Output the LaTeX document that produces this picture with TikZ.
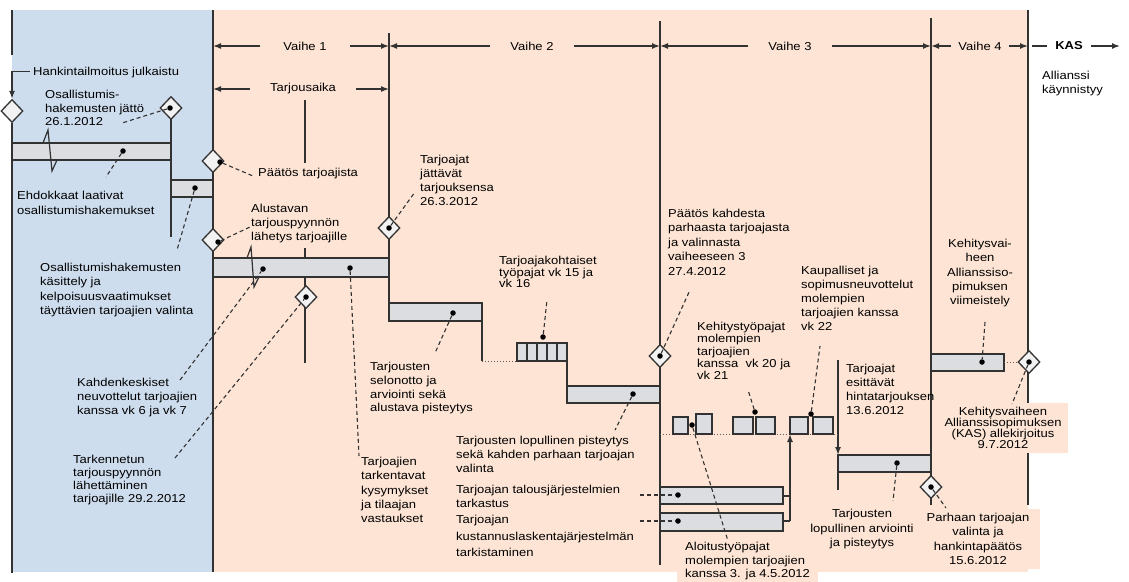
\documentclass[tikz,border=0pt]{standalone}
\usepackage{fontspec}
\setmainfont{Liberation Sans}[FakeStretch=1.13]
\usepackage{tikz}
\usetikzlibrary{arrows.meta,shapes.geometric}
\definecolor{blueC}{RGB}{206,221,238}
\definecolor{peachC}{RGB}{253,228,212}
\definecolor{barC}{RGB}{220,221,225}
\definecolor{lineC}{RGB}{50,50,50}
\definecolor{mileC}{RGB}{242,242,242}
\newcommand\lblfont[1][14]{\fontsize{11.5}{#1}\selectfont}

\begin{document}
\begin{tikzpicture}[x=1pt, y=-1pt,
    ln/.style = {draw=lineC, line width=1.5pt},
    harrow/.style = {draw=lineC, line width=1.5pt, -{Latex[length=8pt,width=6pt]}},
    taskbar/.style = {draw=lineC, fill=barC, line width=1.3pt},
    dotline/.style = {draw=lineC!80, dotted, line width=1pt},
    lead/.style = {draw=lineC, line width=1.1pt, dash pattern=on 4pt off 3pt},
    milestone/.style = {diamond, draw=lineC, fill=mileC, line width=1.3pt,
        minimum width=22pt, minimum height=23pt, inner sep=0pt},
    spot/.style = {circle, fill=black, inner sep=0pt, minimum size=5.5pt},
    hdr/.style = {font=\lblfont, inner xsep=20pt, inner ysep=0pt},
    lbl/.style = {font=\lblfont, align=left, anchor=north west, inner sep=0pt,
        execute at begin node={\rule{0pt}{10pt}}},
    clbl/.style = {lbl, align=center, anchor=north},
    boxed/.style = {fill=peachC, inner xsep=8pt, inner ysep=4pt}]

\useasboundingbox (0,0) rectangle (1129,581);
\fill[blueC] (12,10) rectangle (213,572);
\fill[peachC] (213,10) rectangle (1028,572);

\coordinate (b0) at (213,10);
\coordinate (b1) at (389,33);
\coordinate (b2) at (660,21);
\coordinate (b3) at (931,18);
\coordinate (b4) at (1028,10);

\draw[ln] (12,10) -- (12,55);
\draw[ln] (12,123) -- (12,573);
\draw[ln] (b0) -- (213,572);
\draw[ln] (b1) -- (389,321);
\draw[ln] (b2) -- (660,565);
\draw[ln] (b3) -- (931,505);
\draw[ln] (b4) -- (1028,505);
\draw[ln] (171,108) -- (171,237);
\draw[ln] (305,100) -- (305,163);
\draw[ln] (305,248) -- (305,363);
\draw[ln] (482,321) -- (482,361);
\draw[ln] (567,361) -- (567,386);
\draw[ln] (838,455) -- (838,490);
\draw[ln] (783,496) -- (790,496);
\draw[ln] (783,521) -- (790,521);
\draw[harrow] (838,360) -- (838,455);

\node (v1) at (305,46) [hdr, inner xsep=23pt] {Vaihe 1};
\draw[harrow] (v1.west) -- (v1.west -| b0);
\draw[harrow] (v1.east) -- (v1.east -| b1);
\node (v2) at (532,46) [hdr] {Vaihe 2};
\draw[harrow] (v2.west) -- (v2.west -| b1);
\draw[harrow] (v2.east) -- (v2.east -| b2);
\node (v3) at (790,46) [hdr] {Vaihe 3};
\draw[harrow] (v3.west) -- (v3.west -| b2);
\draw[harrow] (v3.east) -- (v3.east -| b3);
\node (v4) at (980,46) [hdr, inner xsep=7pt] {Vaihe 4};
\draw[harrow] (v4.west) -- (v4.west -| b3);
\draw[harrow] (v4.east) -- (v4.east -| b4);
\node (kas) at (1069,46) [hdr, font=\lblfont\bfseries, inner xsep=8pt] {KAS};
\coordinate (kasEnd) at (1120,46);
\draw[ln] (kas.west) -- ([xshift=4pt]kas.west -| b4);
\draw[harrow] (kas.east) -- (kasEnd);
\node (ta) at (303,89) [hdr] {Tarjousaika};
\draw[harrow] (ta.west) -- (ta.west -| b0);
\draw[harrow] (ta.east) -- (ta.east -| b1);

\draw[dotline] (482,361) -- (517,361);
\draw[dotline] (660,434) -- (838,434);

\draw[taskbar] (12,143) rectangle (171,160);
\draw[taskbar] (171,180) rectangle (213,197);
\draw[taskbar] (213,258) rectangle (389,277);
\draw[taskbar] (389,303) rectangle (482,321);
\draw[taskbar] (517,343) rectangle (527,361);
\draw[taskbar] (527,343) rectangle (537,361);
\draw[taskbar] (537,343) rectangle (547,361);
\draw[taskbar] (547,343) rectangle (557,361);
\draw[taskbar] (557,343) rectangle (567,361);
\draw[taskbar] (567,386) rectangle (660,403);
\draw[taskbar] (660,487) rectangle (783,504);
\draw[taskbar] (660,513) rectangle (783,531);
\draw[taskbar] (673,417) rectangle (688,434);
\draw[taskbar] (696,414) rectangle (712,434);
\draw[taskbar] (733,417) rectangle (753,434);
\draw[taskbar] (756,417) rectangle (775,434);
\draw[taskbar] (790,417) rectangle (808,434);
\draw[taskbar] (813,417) rectangle (833,434);
\draw[taskbar] (838,455) rectangle (931,472);
\draw[taskbar] (931,354) rectangle (1004,371);
\draw[ln, line width=1.2pt] (43,143) -- (48,130) -- (52,171) -- (57,160);
\draw[ln, line width=1.2pt] (247,258) -- (251,247) -- (254,287) -- (259,277);
\draw[harrow] (790,521) -- (790,434);

\node (m0) at (12,111) [milestone] {};
\node (m1) at (171,108) [milestone] {};
\node (m2) at (213,161) [milestone] {};
\node (m3) at (213,240) [milestone] {};
\node (m4) at (306,297) [milestone] {};
\node (m5) at (389,228) [milestone] {};
\node (m6) at (660,356) [milestone] {};
\node (m7) at (931,487) [milestone] {};
\node (m8) at (1029,362) [milestone] {};
\draw[dotline] (1004,362) -- (m8);

\node (d1) at (170,108) [spot] {};
\node (d2) at (220,162) [spot] {};
\node (d3) at (218,242) [spot] {};
\node (d4) at (306,297) [spot] {};
\node (d5) at (389,228) [spot] {};
\node (d6) at (660,356) [spot] {};
\node (d7) at (931,487) [spot] {};
\node (d8) at (1029,362) [spot] {};
\node (d9) at (123,151) [spot] {};
\node (d10) at (195,188) [spot] {};
\node (d11) at (263,269) [spot] {};
\node (d12) at (350,268) [spot] {};
\node (d13) at (453,313) [spot] {};
\node (d14) at (543,337) [spot] {};
\node (d15) at (633,394) [spot] {};
\node (d16) at (678,495) [spot] {};
\node (d17) at (678,521) [spot] {};
\node (d18) at (692,425) [spot] {};
\node (d19) at (755,412) [spot] {};
\node (d20) at (811,414) [spot] {};
\node (d21) at (897,463) [spot] {};
\node (d22) at (982,362) [spot] {};

\node (lHank) at (30,65) [lbl, inner xsep=3pt] {Hankintailmoitus julkaistu};
\draw[harrow] (lHank.west) -| (m0.north);
\node (lOsal) at (45,90) [lbl, font={\lblfont[13.5]}] {Osallistumis-\\hakemusten jättö\\26.1.2012};
\node (lEhdo) at (17,191) [lbl, font={\lblfont[15]}] {Ehdokkaat laativat\\osallistumishakemukset};
\node (lPaat) at (258,166) [lbl] {Päätös tarjoajista};
\node (lAlus) at (251,204) [lbl] {Alustavan\\tarjouspyynnön\\lähetys tarjoajille};
\node (lOsk) at (40,263) [lbl, font={\lblfont[14.3]}] {Osallistumishakemusten\\käsittely ja\\kelpoisuusvaatimukset\\täyttävien tarjoajien valinta};
\node (lKahd) at (77,378) [lbl] {Kahdenkeskiset\\neuvottelut tarjoajien\\kanssa vk 6 ja vk 7};
\node (lTark) at (73,455) [lbl, font={\lblfont[13]}] {Tarkennetun\\tarjouspyynnön\\lähettäminen\\tarjoajille 29.2.2012};
\node (lTkys) at (361,457) [lbl, font={\lblfont[14.3]}] {Tarjoajien\\tarkentavat\\kysymykset\\ja tilaajan\\vastaukset};
\node (lTjat) at (420,155) [lbl] {Tarjoajat\\jättävät\\tarjouksensa\\26.3.2012};
\node (lSelo) at (370,362) [lbl, font={\lblfont[13.8]}] {Tarjousten\\selonotto ja\\arviointi sekä\\alustava pisteytys};
\node (lTyop) at (499,256) [lbl, font={\lblfont[10.5]}] {Tarjoajakohtaiset\\työpajat vk 15 ja\\vk 16};
\node (lLopp) at (456,436) [lbl] {Tarjousten lopullinen pisteytys\\sekä kahden parhaan tarjoajan\\valinta};
\node (lTalo) at (456,485) [lbl] {Tarjoajan talousjärjestelmien\\tarkastus};
\node (lKust) at (456,515) [lbl, font={\lblfont[16.5]}] {Tarjoajan\\kustannuslaskentajärjestelmän\\tarkistaminen};
\node (lPaat3) at (668,209) [lbl, font={\lblfont[14.4]}] {Päätös kahdesta\\parhaasta tarjoajasta\\ja valinnasta\\vaiheeseen 3\\27.4.2012};
\node (lKehi) at (697,322) [lbl, font={\lblfont[12.3]}] {Kehitystyöpajat\\molempien\\tarjoajien\\kanssa\ \ vk 20 ja\\vk 21};
\node (lKaup) at (801,266) [lbl] {Kaupalliset ja\\sopimusneuvottelut\\molempien\\tarjoajien kanssa\\vk 22};
\node (lAloi) at (677,538) [lbl, boxed, font={\lblfont[13.5]}] {Aloitustyöpajat\\molempien tarjoajien\\kanssa 3. ja 4.5.2012};
\node (lTesi) at (846,364) [lbl] {Tarjoajat\\esittävät\\hintatarjouksen\\13.6.2012};
\node (lTlop) at (862,509) [clbl, font={\lblfont[14.5]}] {Tarjousten\\lopullinen arviointi\\ja pisteytys};
\node (lParh) at (978,509) [clbl, boxed, inner xsep=11pt, font={\lblfont[14.3]}] {Parhaan tarjoajan\\valinta ja\\hankintapäätös\\15.6.2012};
\node (lKvii) at (980,239) [clbl, font={\lblfont[14.3]}] {Kehitysvai-\\heen\\Allianssiso-\\pimuksen\\viimeistely};
\node (lKas) at (1003,403) [clbl, boxed, inner xsep=6pt, font={\lblfont[11]}] {Kehitysvaiheen\\Allianssisopimuksen\\(KAS) allekirjoitus\\9.7.2012};
\node (lAlli) at (1042,71) [lbl] {Allianssi\\käynnistyy};

\coordinate (eOsal) at (122,123);
\coordinate (eEhdo) at (106,177);
\coordinate (ePaat) at (253,176);
\coordinate (eAlus) at (250,227);
\coordinate (eOsk) at (177,250);
\coordinate (eKahd) at (180,380);
\coordinate (eTark) at (175,458);
\coordinate (eTkys) at (359,456);
\coordinate (eTjat) at (415,192);
\coordinate (eSelo) at (435,353);
\coordinate (eTyop) at (547,300);
\coordinate (eLopp) at (615,430);
\coordinate (eTalo) at (640,495);
\coordinate (eKust) at (640,521);
\coordinate (ePaat3) at (690,290);
\coordinate (eKehi) at (748,390);
\coordinate (eKaup) at (820,346);
\coordinate (eAloi) at (728,541);
\coordinate (eTlop) at (893,501);
\coordinate (eParh) at (946,508);
\coordinate (eKvii) at (985,322);
\coordinate (eKas) at (1012,404);

\draw[lead] (d1) -- (eOsal);
\draw[lead] (d9) -- (eEhdo);
\draw[lead] (d2) -- (ePaat);
\draw[lead] (d3) -- (eAlus);
\draw[lead] (d10) -- (eOsk);
\draw[lead] (eKahd) -- (d11);
\draw[lead] (eTark) -- (d4);
\draw[lead] (d12) -- (eTkys);
\draw[lead] (d5) -- (eTjat);
\draw[lead] (d13) -- (eSelo);
\draw[lead] (d14) -- (eTyop);
\draw[lead] (d15) -- (eLopp);
\draw[lead] (eTalo) -- (d16);
\draw[lead] (eKust) -- (d17);
\draw[lead] (d6) -- (ePaat3);
\draw[lead] (d19) -- (eKehi);
\draw[lead] (d20) -- (eKaup);
\draw[lead] (d18) -- (eAloi);
\draw[lead] (d21) -- (eTlop);
\draw[lead] (d7) -- (eParh);
\draw[lead] (eKvii) -- (d22);
\draw[lead] (d8) -- (eKas);

\end{tikzpicture}
\end{document}
